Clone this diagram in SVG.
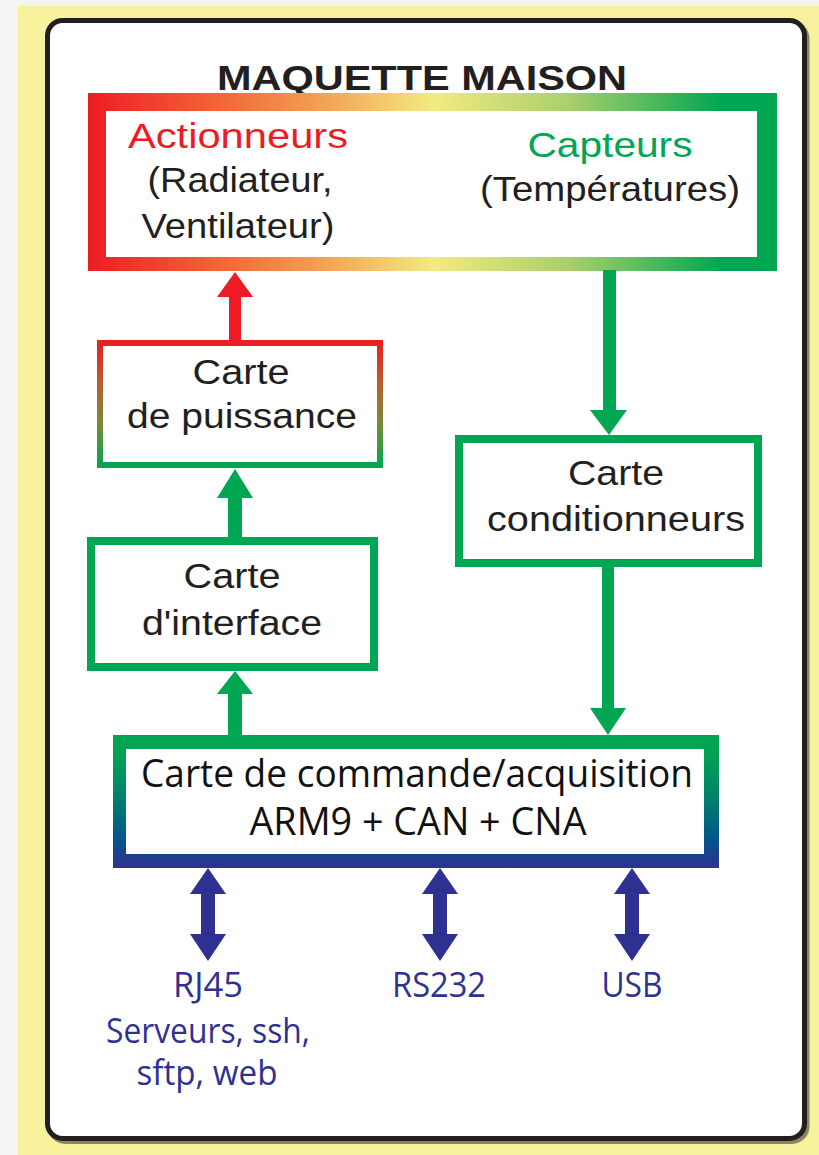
<svg xmlns="http://www.w3.org/2000/svg" width="819" height="1155" viewBox="0 0 819 1155">
<style>
.t{font-family:"Liberation Sans",Arial,sans-serif;font-size:35px;fill:#231F20;text-anchor:middle}
.h{font-family:"Open Sans","Noto Sans",sans-serif;font-size:38px;fill:#111;text-anchor:middle}
.b{font-family:"Open Sans","Noto Sans",sans-serif;font-size:34px;fill:#2E3192;text-anchor:middle}
.g{fill:#00A651}
.r{fill:#ED1C24}
.bl{fill:#2E3192}
.box{fill:#fff;stroke:#00A651;stroke-width:8}
</style>
<defs>
<linearGradient id="gTop" gradientUnits="userSpaceOnUse" x1="88" y1="0" x2="777" y2="0">
<stop offset="0" stop-color="#ED1C24"/>
<stop offset="0.2" stop-color="#F26A36"/>
<stop offset="0.35" stop-color="#F4A556"/>
<stop offset="0.5" stop-color="#F3EA80"/>
<stop offset="0.7" stop-color="#A8D06A"/>
<stop offset="0.92" stop-color="#00A651"/>
<stop offset="1" stop-color="#00A651"/>
</linearGradient>
<linearGradient id="gPow" gradientUnits="userSpaceOnUse" x1="0" y1="340" x2="0" y2="468">
<stop offset="0" stop-color="#ED1C24"/>
<stop offset="0.35" stop-color="#B5602E"/>
<stop offset="0.65" stop-color="#7A8A3A"/>
<stop offset="1" stop-color="#00A651"/>
</linearGradient>
<linearGradient id="gCmd" gradientUnits="userSpaceOnUse" x1="0" y1="735" x2="0" y2="868">
<stop offset="0" stop-color="#00A651"/>
<stop offset="0.15" stop-color="#00A253"/>
<stop offset="0.45" stop-color="#00836A"/>
<stop offset="0.75" stop-color="#005A8A"/>
<stop offset="1" stop-color="#2E3192"/>
</linearGradient>
</defs>
<rect x="0" y="0" width="819" height="1155" fill="#F4F4F4"/>
<rect x="18" y="6" width="801" height="1149" fill="#F8F19E"/>
<g id="frame">
<rect x="50" y="23.5" width="757" height="1118" rx="15" fill="none" stroke="#8A8660" stroke-width="5"/>
<rect x="47.5" y="20.5" width="757" height="1118" rx="15" fill="#fff" stroke="#231F20" stroke-width="5"/>
<text class="t" x="422" y="90" font-size="40" font-weight="bold" textLength="410" lengthAdjust="spacingAndGlyphs">MAQUETTE MAISON</text>
</g>
<g id="maquette">
<rect x="88" y="93" width="689" height="178" fill="url(#gTop)"/>
<rect x="106" y="111" width="651" height="146" fill="#fff"/>
<text class="t" x="238" y="148" style="fill:#ED1C24" textLength="220" lengthAdjust="spacingAndGlyphs">Actionneurs</text>
<text class="t" x="240" y="192" textLength="185" lengthAdjust="spacingAndGlyphs">(Radiateur,</text>
<text class="t" x="238" y="238" textLength="193" lengthAdjust="spacingAndGlyphs">Ventilateur)</text>
<text class="t" x="610" y="157" style="fill:#00A651" textLength="165" lengthAdjust="spacingAndGlyphs">Capteurs</text>
<text class="t" x="610" y="201" textLength="260" lengthAdjust="spacingAndGlyphs">(Températures)</text>
</g>
<g id="puissance">
<rect x="100" y="343" width="280" height="122" fill="#fff" stroke="url(#gPow)" stroke-width="6"/>
<text class="t" x="241" y="384" textLength="97" lengthAdjust="spacingAndGlyphs">Carte</text>
<text class="t" x="242" y="428" textLength="230" lengthAdjust="spacingAndGlyphs">de puissance</text>
</g>
<g id="interface">
<rect class="box" x="91" y="541" width="283" height="126"/>
<text class="t" x="232" y="588" textLength="97" lengthAdjust="spacingAndGlyphs">Carte</text>
<text class="t" x="232" y="635" textLength="180" lengthAdjust="spacingAndGlyphs">d'interface</text>
</g>
<g id="conditionneurs">
<rect class="box" x="459" y="439" width="299" height="124"/>
<text class="t" x="616" y="485" textLength="96" lengthAdjust="spacingAndGlyphs">Carte</text>
<text class="t" x="616" y="531" textLength="258" lengthAdjust="spacingAndGlyphs">conditionneurs</text>
</g>
<g id="commande">
<rect x="113" y="735" width="606" height="133" fill="url(#gCmd)"/>
<rect x="126" y="749" width="578" height="105" fill="#fff"/>
<text class="h" x="417" y="787" textLength="552" lengthAdjust="spacingAndGlyphs">Carte de commande/acquisition</text>
<text class="h" x="418" y="835" textLength="337" lengthAdjust="spacingAndGlyphs">ARM9 + CAN + CNA</text>
</g>
<g id="ports">
<text class="b" x="208" y="997" textLength="70" lengthAdjust="spacingAndGlyphs">RJ45</text>
<text class="b" x="208" y="1043" textLength="204" lengthAdjust="spacingAndGlyphs">Serveurs, ssh,</text>
<text class="b" x="207" y="1085" textLength="141" lengthAdjust="spacingAndGlyphs">sftp, web</text>
<text class="b" x="439" y="997" textLength="94" lengthAdjust="spacingAndGlyphs">RS232</text>
<text class="b" x="632" y="997" textLength="61" lengthAdjust="spacingAndGlyphs">USB</text>
</g>
<g id="connectors">
<polygon class="r" points="235,272 253,297 241,297 241,341 229,341 229,297 217,297"/>
<polygon class="g" points="235,469 253,498 242,498 242,538 228,538 228,498 217,498"/>
<polygon class="g" points="235,671 253,694 242,694 242,736 228,736 228,694 217,694"/>
<polygon class="g" points="603,270 616,270 616,410 627,410 609,435 590,410 603,410"/>
<polygon class="g" points="602,566 614,566 614,708 626,708 608,735 590,708 602,708"/>
<polygon class="bl" points="208,868 226,894 215,894 215,934 226,934 208,961 190,934 201,934 201,894 190,894"/>
<polygon class="bl" points="440,868 458,894 447,894 447,934 458,934 440,961 422,934 433,934 433,894 422,894"/>
<polygon class="bl" points="632,868 650,894 639,894 639,934 650,934 632,961 614,934 625,934 625,894 614,894"/>
</g>
</svg>
